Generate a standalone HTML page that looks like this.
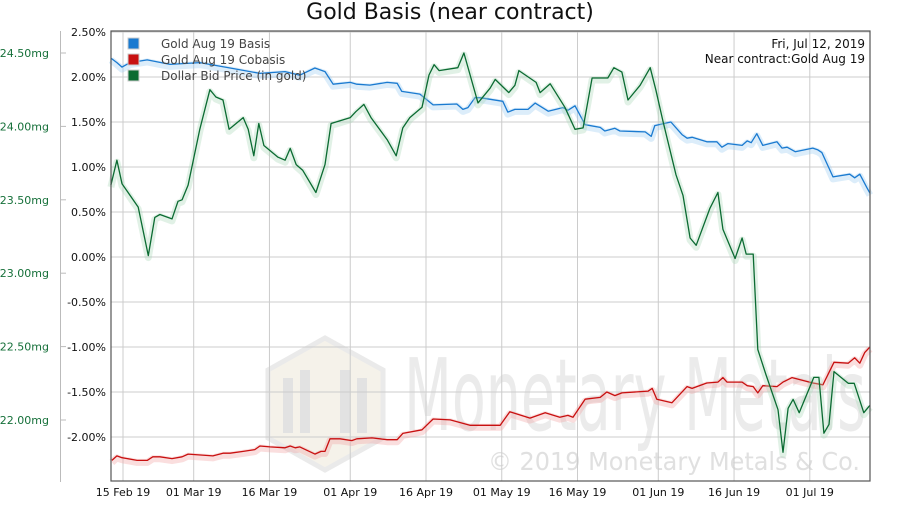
<!DOCTYPE html>
<html><head><meta charset="utf-8"><style>
body{margin:0;background:#fff;}
svg{font-family:"Liberation Sans","DejaVu Sans",sans-serif;}
</style></head><body>
<svg id="chart" width="900" height="500" viewBox="0 0 900 500" xmlns="http://www.w3.org/2000/svg">
<text x="450" y="19" text-anchor="middle" font-size="22" fill="#111" font-family="DejaVu Sans, sans-serif">Gold Basis (near contract)</text>
<g id="watermark">
  <polygon points="325,338 383,370 383,438 325,470 268,438 268,370" fill="#f3efe6" stroke="#e6e6e6" stroke-width="5" opacity="0.8"/>
  <rect x="283" y="378" width="10" height="55" fill="#e2e2e2"/>
  <rect x="300" y="370" width="10" height="63" fill="#e2e2e2"/>
  <rect x="340" y="370" width="10" height="63" fill="#e2e2e2"/>
  <rect x="357" y="378" width="10" height="55" fill="#e2e2e2"/>
  <text x="404" y="430" font-size="100" fill="#ebebeb" font-family="DejaVu Sans, sans-serif" textLength="462" lengthAdjust="spacingAndGlyphs">Monetary Metals</text>
  <text x="488" y="470" font-size="25" fill="#e0e0e0" font-family="DejaVu Sans, sans-serif" textLength="372" lengthAdjust="spacingAndGlyphs">© 2019 Monetary Metals &amp; Co.</text>
</g>
<g id="grid"></g>
<g id="series"></g>
<rect x="111" y="31" width="759" height="450" fill="none" stroke="#555" stroke-width="1.2"/>
<g id="axes"></g>
<g id="legend">
  <rect x="128" y="38" width="11" height="11" fill="#1a7ad0" stroke="#ccc"/>
  <text x="161" y="48" font-size="12" fill="#444" font-family="DejaVu Sans, sans-serif">Gold Aug 19 Basis</text>
  <rect x="128" y="54" width="11" height="11" fill="#c81010" stroke="#ccc"/>
  <text x="161" y="64" font-size="12" fill="#444" font-family="DejaVu Sans, sans-serif">Gold Aug 19 Cobasis</text>
  <rect x="128" y="70" width="11" height="11" fill="#0b6b32" stroke="#ccc"/>
  <text x="161" y="80" font-size="12" fill="#444" font-family="DejaVu Sans, sans-serif">Dollar Bid Price (in gold)</text>
</g>
<text x="865" y="48" text-anchor="end" font-size="12" fill="#111" font-family="DejaVu Sans, sans-serif">Fri, Jul 12, 2019</text>
<text x="865" y="63" text-anchor="end" font-size="12" fill="#111" font-family="DejaVu Sans, sans-serif">Near contract:Gold Aug 19</text>
</svg>
<script>
const pctTicks = [2.5,2.0,1.5,1.0,0.5,0.0,-0.5,-1.0,-1.5,-2.0];
const pctTickLabels = ["2.50%","2.00%","1.50%","1.00%","0.50%","0.00%","-0.50%","-1.00%","-1.50%","-2.00%"];
const mgTicks = [24.5,24.0,23.5,23.0,22.5,22.0];
const mgTickLabels = ["24.50mg","24.00mg","23.50mg","23.00mg","22.50mg","22.00mg"];
const xTickDays = [0,14,29,45,60,75,90,106,121,136];
const xTickLabels = ["15 Feb 19","01 Mar 19","16 Mar 19","01 Apr 19","16 Apr 19","01 May 19","16 May 19","01 Jun 19","16 Jun 19","01 Jul 19"];

const priceDays = [-2.4,-1.2,-0.2,3.0,5.0,6.3,7.3,9.7,10.9,11.7,12.9,15.2,17.2,18.4,19.8,21.0,23.8,24.8,25.9,26.9,27.9,30.7,32.1,33.1,34.3,35.6,38.2,40.0,41.2,45.0,46.1,47.7,49.1,52.3,54.1,55.4,56.8,59.2,60.6,61.6,62.6,66.3,67.5,70.3,72.7,73.7,76.4,77.6,78.4,81.8,82.6,84.6,87.5,89.5,91.1,92.9,96.0,97.2,98.8,100.0,102.4,104.4,105.5,106.9,109.5,110.9,112.3,113.5,116.2,117.8,118.8,121.2,122.6,123.4,124.8,125.7,127.3,129.7,130.7,131.7,132.7,133.9,136.8,137.8,138.8,139.8,140.8,143.6,144.8,146.7,147.9];
const priceMg = [23.60,23.77,23.61,23.45,23.12,23.38,23.40,23.37,23.49,23.50,23.60,23.98,24.25,24.20,24.18,23.98,24.06,23.98,23.80,24.02,23.87,23.79,23.77,23.85,23.74,23.70,23.55,23.74,24.02,24.06,24.10,24.15,24.06,23.91,23.80,23.99,24.06,24.13,24.35,24.42,24.38,24.40,24.50,24.16,24.26,24.32,24.23,24.28,24.38,24.30,24.23,24.29,24.13,23.98,23.99,24.33,24.33,24.40,24.37,24.18,24.28,24.40,24.25,24.04,23.67,23.53,23.24,23.19,23.44,23.55,23.30,23.10,23.24,23.13,23.13,22.48,22.31,22.07,21.78,22.08,22.14,22.05,22.29,22.29,21.91,21.97,22.33,22.25,22.25,22.05,22.10];

const basisDays = [-2.4,-1.2,-0.2,1.4,4.8,9.3,15.2,21.2,27.1,32.1,35.0,38.0,40.0,41.6,45.0,46.3,48.9,52.3,54.3,55.2,58.8,61.4,66.1,67.3,68.3,69.7,70.7,75.2,76.2,77.6,80.2,81.6,84.2,87.1,88.1,89.5,91.5,94.5,95.4,97.4,98.4,103.4,104.6,105.3,108.5,110.7,111.7,112.7,115.6,117.6,118.6,119.8,122.6,123.6,124.4,125.5,126.7,129.5,130.5,131.5,133.1,136.6,137.6,138.4,140.6,143.9,144.9,145.9,147.3,147.9];
const basisPct = [2.21,2.16,2.11,2.16,2.19,2.14,2.16,2.10,2.04,2.06,2.02,2.10,2.06,1.92,1.94,1.92,1.91,1.94,1.93,1.84,1.81,1.69,1.70,1.64,1.66,1.77,1.77,1.73,1.61,1.64,1.64,1.71,1.62,1.66,1.63,1.68,1.47,1.44,1.40,1.43,1.40,1.39,1.34,1.46,1.50,1.36,1.32,1.33,1.28,1.28,1.22,1.26,1.24,1.29,1.27,1.37,1.24,1.28,1.21,1.22,1.17,1.21,1.19,1.16,0.89,0.92,0.88,0.92,0.77,0.71];

const cobasisDays = [-2.2,-1.2,-0.2,2.8,4.8,5.9,7.3,9.7,11.7,12.9,17.8,19.8,21.2,23.8,26.1,27.1,29.1,32.1,33.1,34.1,35.0,38.0,39.2,40.0,41.0,43.0,45.3,46.3,49.3,52.3,54.3,55.4,59.2,61.4,64.8,68.7,74.7,76.6,80.6,83.6,86.5,88.1,89.1,91.5,94.5,95.8,97.4,98.8,104.0,104.8,105.7,108.7,111.7,112.7,115.6,117.8,118.8,119.6,122.6,123.6,124.8,125.7,126.7,129.5,130.7,132.5,136.6,138.6,140.8,143.6,144.9,145.9,146.9,147.9];
const cobasisPct = [-2.26,-2.21,-2.23,-2.26,-2.26,-2.22,-2.22,-2.24,-2.22,-2.19,-2.21,-2.18,-2.18,-2.16,-2.14,-2.10,-2.11,-2.12,-2.10,-2.12,-2.11,-2.19,-2.16,-2.16,-2.02,-2.02,-2.04,-2.02,-2.01,-2.03,-2.03,-1.96,-1.92,-1.80,-1.81,-1.87,-1.87,-1.72,-1.79,-1.73,-1.78,-1.76,-1.78,-1.58,-1.56,-1.50,-1.54,-1.51,-1.49,-1.46,-1.58,-1.62,-1.44,-1.46,-1.40,-1.39,-1.34,-1.39,-1.39,-1.43,-1.44,-1.51,-1.43,-1.44,-1.39,-1.34,-1.40,-1.42,-1.17,-1.18,-1.12,-1.18,-1.06,-1.00];

const NS = "http://www.w3.org/2000/svg";
const X0 = 123, PXDAY = 5.05;
function xScale(d){ return X0 + d*PXDAY; }
function yPct(p){ return 32 + (2.5 - p)*90; }
function yMg(m){ return 53 + (24.5 - m)*146.8; }
function mk(tag, attrs, parent){ const e=document.createElementNS(NS,tag); for(const k in attrs) e.setAttribute(k, attrs[k]); parent.appendChild(e); return e; }

const grid = document.getElementById('grid');
const axes = document.getElementById('axes');
const series = document.getElementById('series');

pctTicks.forEach((p,i)=>{
  const y = yPct(p);
  const gl = mk('line',{x1:111,x2:870,y1:y,y2:y,stroke:'#cccccc','stroke-width':1},grid);
  
  
  const t = mk('text',{x:106,y:y+4,'text-anchor':'end','font-size':11,fill:'#111','font-family':'DejaVu Sans, sans-serif'},axes);
  t.textContent = pctTickLabels[i];
  
  
});
xTickDays.forEach((d,i)=>{
  const x = xScale(d);
  const gl = mk('line',{x1:x,x2:x,y1:31,y2:481,stroke:'#cccccc','stroke-width':1},grid);
  
  
  const t = mk('text',{x:x,y:496,'text-anchor':'middle','font-size':11,fill:'#111','font-family':'DejaVu Sans, sans-serif'},axes);
  t.textContent = xTickLabels[i];
  
  
});
const al = mk('line',{x1:60.5,x2:60.5,y1:31,y2:482,stroke:'#bbb','stroke-width':1},axes);


mgTicks.forEach((m,i)=>{
  const y = yMg(m);
  const tk = mk('line',{x1:60,x2:66,y1:y,y2:y,stroke:'#bbb','stroke-width':1},axes);
  
  
  const t = mk('text',{x:49,y:y+4,'text-anchor':'end','font-size':11,fill:'#16703a','font-family':'DejaVu Sans, sans-serif'},axes);
  t.textContent = mgTickLabels[i];
  
  
});

function drawLine(days, vals, yf, color, glow, name){
  const pts = days.map((d,i)=> xScale(d).toFixed(1)+','+yf(vals[i]).toFixed(1)).join(' ');
  const g1 = mk('polyline',{points:pts,fill:'none',stroke:glow,'stroke-width':7,'stroke-opacity':0.35,'stroke-linejoin':'round',transform:'translate(0,2)'},series);
  
  
  const l = mk('polyline',{points:pts,fill:'none',stroke:color,'stroke-width':1.3,'stroke-linejoin':'round'},series);
  
  
}
drawLine(basisDays, basisPct, yPct, '#1a7ad0', '#9ccbf0', 'basis-line');
drawLine(cobasisDays, cobasisPct, yPct, '#c81010', '#f2a0a0', 'cobasis-line');
drawLine(priceDays, priceMg, yMg, '#0b6b32', '#a8d8b8', 'price-line');
</script>
</body></html>
